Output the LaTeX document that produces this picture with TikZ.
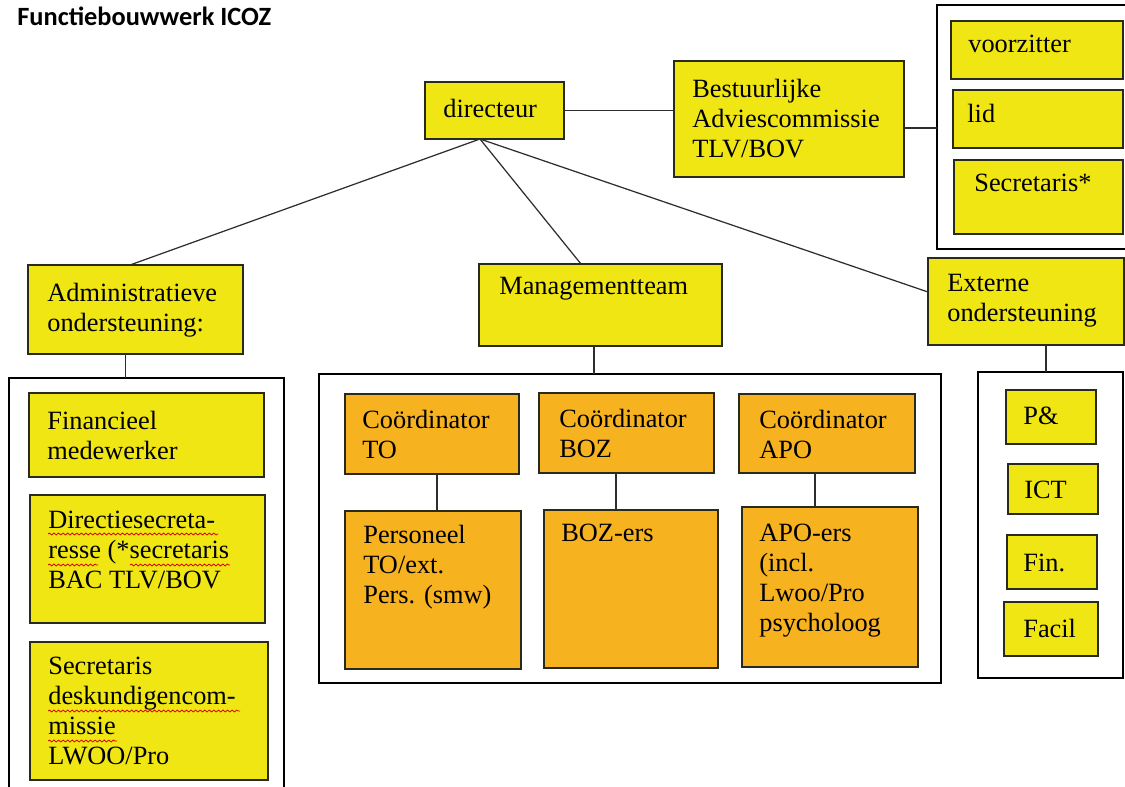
\documentclass[tikz,border=0pt]{standalone}
\usepackage{fontspec}
\setmainfont{Liberation Serif}
\newfontfamily\titlefont{Carlito}
\usepackage{tikz}
\usetikzlibrary{fit}
\usetikzlibrary{decorations.pathmorphing}
\usepackage{xcolor}

\definecolor{boxyellow}{RGB}{240,230,20}
\definecolor{boxorange}{RGB}{247,178,32}
\definecolor{boxline}{RGB}{40,42,30}
\definecolor{linegray}{RGB}{45,45,45}

\newcommand{\boxfont}{\fontsize{15}{17}\selectfont}

\tikzset{
 ybox/.style={draw=boxline, fill=boxyellow, line width=0.8pt, inner sep=0pt, outer sep=0pt},
 obox/.style={draw=boxline, fill=boxorange, line width=0.8pt, inner sep=0pt, outer sep=0pt},
 groupframe/.style={draw=black, line width=1.3pt, inner sep=0pt, outer sep=0pt},
 txt/.style={anchor=north west, yshift=10.2pt, inner sep=0pt, align=left, font=\boxfont},
 conn/.style={draw=linegray, line width=0.7pt},
 squig/.style={red!85!black, line width=0.45pt, decorate, decoration={snake, amplitude=0.55pt, segment length=2.6pt}}
}

\begin{document}
\begin{tikzpicture}[x=0.02cm, y=-0.02cm]

\clip (0,0) rectangle (1125,787);
\fill[white] (0,0) rectangle (1125,787);

\node (title) at (17,26) [anchor=base west, inner sep=0pt, font=\titlefont\bfseries\fontsize{15}{17}\selectfont] {Functiebouwwerk ICOZ};

\node[ybox, fit={(425,82) (564,139)}] (dir) {};
\node (dirT) at (443,117) [txt] {directeur};

\node[ybox, fit={(674,61) (904,177)}] (bac) {};
\node (bacT) at (692,97) [txt] {Bestuurlijke\\Adviescommissie\\TLV/BOV};

\node[groupframe, fit={(937,5) (1145,249)}] (bacframe) {};

\node[ybox, fit={(951,21) (1123,79)}] (vz) {};
\node (vzT) at (968,53) [txt] {voorzitter};

\node[ybox, fit={(953,90) (1123,148)}] (lid) {};
\node (lidT) at (967,122) [txt] {lid};

\node[ybox, fit={(954,160) (1123,234)}] (sec) {};
\node (secT) at (974,192) [txt] {Secretaris*};

\draw[conn] (dir.east) -- (dir.east -| bac.west);
\draw[conn] ([yshift=-0.18cm]bac.east) -- ([yshift=-0.18cm]bac.east -| bacframe.west);


\node[ybox, fit={(28,265) (243,354)}] (adm) {};
\node (admT) at (47,301) [txt] {Administratieve\\ondersteuning:};

\node[groupframe, fit={(9,378) (284,800)}] (admframe) {};

\node[ybox, fit={(29,393) (264,477)}] (fin) {};
\node (finT) at (47,429) [txt] {Financieel\\medewerker};

\node[ybox, fit={(30,495) (265,623)}] (dse) {};
\node (dseT) at (48,529) [txt] {Directiesecreta-\\resse (*secretaris\\BAC TLV/BOV};

\node[ybox, fit={(30,642) (268,780)}] (sdk) {};
\node (sdkT) at (48,675) [txt] {Secretaris\\deskundigencom-\\missie\\LWOO/Pro};

\draw[squig] (48,534) -- (218,534);
\draw[squig] (48,565) -- (98,565);
\draw[squig] (130,565) -- (230,565);
\draw[squig] (48,711) -- (240,711);
\draw[squig] (48,741) -- (117,741);


\node[ybox, fit={(479,264) (722,346)}] (mt) {};
\node (mtT) at (499,295) [txt] {Managementteam};

\node[groupframe, fit={(319,374) (941,683)}] (mtframe) {};

\node[obox, fit={(345,394) (519,474)}] (cto) {};
\node (ctoT) at (362,428) [txt] {Coördinator\\TO};

\node[obox, fit={(539,393) (714,473)}] (cbz) {};
\node (cbzT) at (559,427) [txt] {Coördinator\\BOZ};

\node[obox, fit={(739,394) (915,473)}] (cap) {};
\node (capT) at (759,428) [txt] {Coördinator\\APO};

\node[obox, fit={(345,511) (521,669)}] (pto) {};
\node (ptoT) at (363,543) [txt] {Personeel\\TO/ext.\\Pers. (smw)};

\node[obox, fit={(544,510) (718,668)}] (pbz) {};
\node (pbzT) at (561,542) [txt] {BOZ-ers};

\node[obox, fit={(742,507) (918,667)}] (pap) {};
\node (papT) at (759,542) [txt] {APO-ers\\(incl.\\Lwoo/Pro\\psycholoog};

\draw[conn] ([xshift=0.1cm]cto.south) -- ([xshift=0.1cm]cto.south |- pto.north);
\draw[conn] ([xshift=-0.21cm]cbz.south) -- ([xshift=-0.21cm]cbz.south |- pbz.north);
\draw[conn] ([xshift=-0.24cm]cap.south) -- ([xshift=-0.24cm]cap.south |- pap.north);


\node[ybox, fit={(928,258) (1124,345)}] (ext) {};
\node (extT) at (947,292) [txt] {Externe\\ondersteuning};

\node[groupframe, fit={(978,372) (1123,678)}] (extframe) {};

\node[ybox, fit={(1006,390) (1096,444)}] (pen) {};
\node (penT) at (1023,425) [txt] {P\&};

\node[ybox, fit={(1008,464) (1098,514)}] (ict) {};
\node (ictT) at (1024,499) [txt] {ICT};

\node[ybox, fit={(1007,535) (1097,589)}] (fnc) {};
\node (fncT) at (1023,572) [txt] {Fin.};

\node[ybox, fit={(1004,602) (1098,656)}] (fac) {};
\node (facT) at (1023,637) [txt] {Facil};


\coordinate (dirfoot) at ([xshift=1.1cm]dir.south west);
\draw[conn] (dirfoot) -- ([xshift=2.04cm]adm.north west);
\draw[conn] (dirfoot) -- ([xshift=2.04cm]mt.north west);
\draw[conn] (dirfoot) -- ([yshift=0.19cm]ext.west);

\draw[conn] ([xshift=-0.2cm]adm.south) -- ([xshift=-0.2cm]adm.south |- admframe.north);
\draw[conn] ([xshift=-0.13cm]mt.south) -- ([xshift=-0.13cm]mt.south |- mtframe.north);
\draw[conn] ([xshift=0.4cm]ext.south) -- ([xshift=0.4cm]ext.south |- extframe.north);

\end{tikzpicture}
\end{document}
